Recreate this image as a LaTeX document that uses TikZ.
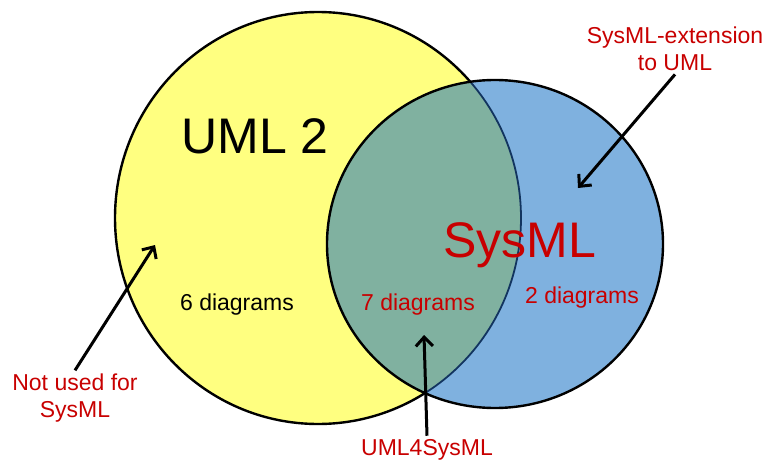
\documentclass[tikz,border=0pt]{standalone}
\usepackage{fontspec}
\setmainfont{Liberation Sans}
\usetikzlibrary{arrows.meta}
\definecolor{umlyellow}{RGB}{255,255,128}
\definecolor{sysblue}{RGB}{127,177,223}
\definecolor{sharedgreen}{RGB}{128,177,160}
\definecolor{notered}{RGB}{200,0,0}
\definecolor{rimnavy}{RGB}{18,52,95}
\begin{document}
\begin{tikzpicture}[x=1pt,y=-1pt]
		\newcommand{\umlrx}{203pt}
		\newcommand{\umlry}{206pt}
		\newcommand{\sysrx}{168pt}
		\newcommand{\sysry}{164pt} % radii of the two sets

		% styles of the sets, labels and pointers
		\tikzset{
			rim/.style={draw=black, line width=2.4pt},
			bigname/.style={font=\fontsize{50}{60}\selectfont, inner sep=0pt},
			count/.style={font=\fontsize{23}{28}\selectfont, inner sep=0pt},
			note/.style={font=\fontsize{23}{27.5}\selectfont, text=notered, align=center, inner sep=3pt},
			pointer/.style={-{Straight Barb[length=9pt,width=17pt]}, line width=3pt}
		}

		\useasboundingbox (0,0) rectangle (764,460);

		% centres of the sets
		\coordinate (umlc) at (318,218);
		\coordinate (sysc) at (495,244);

		% UML 2
		\fill[umlyellow] (umlc) ellipse [x radius=\umlrx, y radius=\umlry];
		\draw[rim] (umlc) ellipse [x radius=\umlrx, y radius=\umlry];

		% SysML
		\fill[sysblue] (sysc) ellipse [x radius=\sysrx, y radius=\sysry];
		\begin{scope}
			\clip (umlc) ellipse [x radius=\umlrx, y radius=\umlry];
			\fill[sharedgreen] (sysc) ellipse [x radius=\sysrx, y radius=\sysry];
		\end{scope}
		\begin{scope}
			\clip (sysc) ellipse [x radius=\sysrx, y radius=\sysry];
			\draw[rimnavy, line width=1.8pt] (umlc) ellipse [x radius=\umlrx, y radius=\umlry];
		\end{scope}
		\draw[rim] (sysc) ellipse [x radius=\sysrx, y radius=\sysry];

		% names and counts
		\node[bigname] (umlname) at (255,136) {UML 2};
		\node[bigname, text=notered, anchor=base] (sysname) at (520,257) {SysML};
		\node[count, anchor=base] (sixdiag) at (237,310) {6 diagrams};
		\node[count, text=notered, anchor=base] (sevendiag) at (418,310) {7 diagrams};
		\node[count, text=notered, anchor=base] (twodiag) at (582,303) {2 diagrams};

		% notes
		\node[note] (notused) at (75,398) {Not used for\\SysML};
		\node[note] (extension) at (675,49) {SysML-extension\\to UML};
		\node[note, anchor=base] (umlforsys) at (427,455) {UML4SysML};

		% pointers
		\coordinate (notusedtip) at (155,245);
		\coordinate (umlforsystip) at (424,335);
		\coordinate (extensiontip) at (578,188);
		\draw[pointer] (notused.north) -- (notusedtip);
		\draw[pointer] (umlforsys.north) -- (umlforsystip);
		\draw[pointer] (extension.south) -- (extensiontip);
\end{tikzpicture}
\end{document}
